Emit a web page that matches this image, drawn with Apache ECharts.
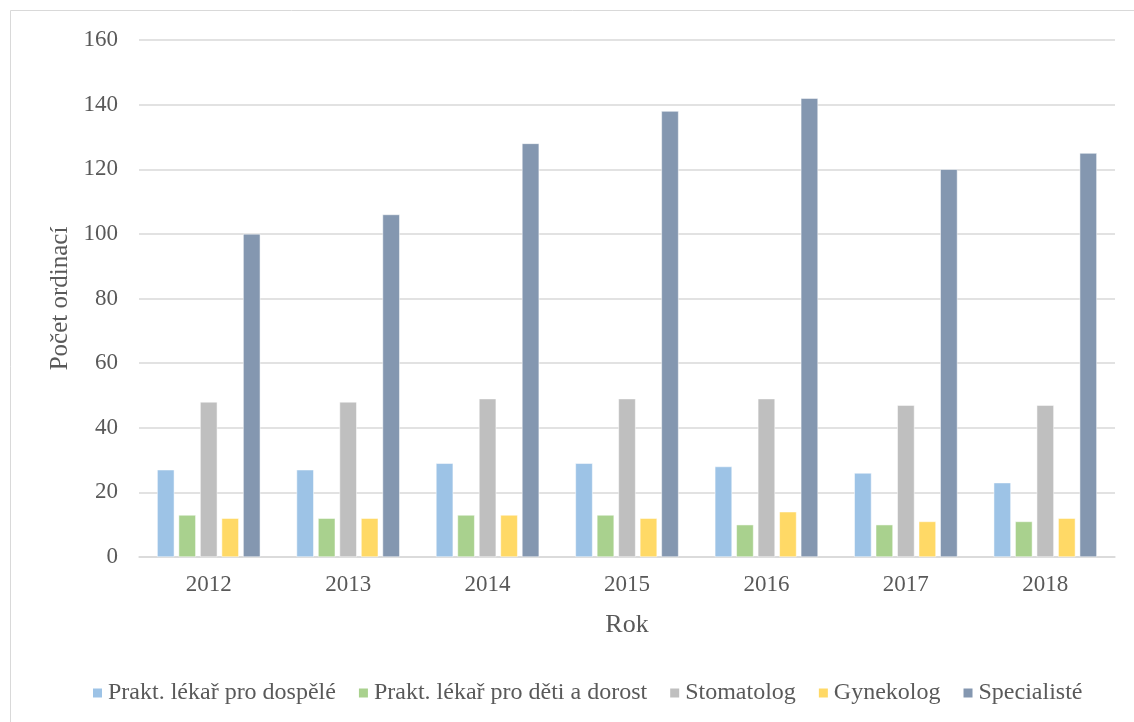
<!DOCTYPE html>
<html>
<head>
<meta charset="utf-8">
<script src="https://cdn.jsdelivr.net/npm/echarts@6/dist/echarts.min.js"></script>
<style>
  html, body { margin: 0; padding: 0; background: #fff; }
  #main { width: 1134px; height: 722px; }
</style>
</head>
<body>
<div id="main"></div>
<script>
var years = ['2012', '2013', '2014', '2015', '2016', '2017', '2018'];
var seriesNames = ['Prakt. lékař pro dospělé', 'Prakt. lékař pro děti a dorost', 'Stomatolog', 'Gynekolog', 'Specialisté'];
var dospeli = [27, 27, 29, 29, 28, 26, 23];
var deti = [13, 12, 13, 13, 10, 10, 11];
var stomatolog = [48, 48, 49, 49, 49, 47, 47];
var gynekolog = [12, 12, 13, 12, 14, 11, 12];
var specialiste = [100, 106, 128, 138, 142, 120, 125];
var colors = ['#9DC3E6', '#A9D18E', '#BFBFBF', '#FFD966', '#8497B0'];

var values = [dospeli, deti, stomatolog, gynekolog, specialiste];
var font = 'Liberation Serif';

var chart = echarts.init(document.getElementById('main'));

var series = seriesNames.map(function (name, i) {
  return {
    name: name,
    type: 'bar',
    data: values[i],
    barGap: '25%',
    barCategoryGap: '26%',
    itemStyle: { color: colors[i], borderColor: '#ffffff', borderWidth: 0.5 }
  };
});

var option = {
  backgroundColor: '#fff',
  animation: false,
  textStyle: { fontFamily: font },
  color: colors,
  graphic: [{
    type: 'rect',
    shape: { x: 10.5, y: 10.5, width: 1140, height: 730 },
    style: { fill: 'none', stroke: '#d9d9d9', lineWidth: 1 },
    silent: true
  }],
  grid: { left: 139, right: 19, top: 40, bottom: 165 },
  legend: {
    top: 676,
    left: 86,
    itemWidth: 11,
    itemHeight: 11,
    itemGap: 21,
    icon: 'rect',
    textStyle: { fontFamily: font, fontSize: 24, color: '#595959' },
    data: seriesNames
  },
  xAxis: {
    type: 'category',
    data: years,
    name: 'Rok',
    nameLocation: 'middle',
    nameGap: 55,
    nameTextStyle: { fontFamily: font, fontSize: 26, color: '#595959' },
    axisLine: { lineStyle: { color: '#d9d9d9', width: 1.5 } },
    axisTick: { show: false },
    axisLabel: { fontFamily: font, fontSize: 23, color: '#595959', margin: 16 }
  },
  yAxis: {
    type: 'value',
    min: 0,
    max: 160,
    interval: 20,
    name: 'Počet ordinací',
    nameLocation: 'middle',
    nameGap: 64,
    nameTextStyle: { fontFamily: font, fontSize: 25, color: '#595959' },
    axisLine: { show: false },
    axisTick: { show: false },
    axisLabel: { fontFamily: font, fontSize: 23, color: '#595959', margin: 21 },
    splitLine: { lineStyle: { color: '#d9d9d9', width: 1.5 } }
  },
  series: series
};

chart.setOption(option);
</script>
</body>
</html>
